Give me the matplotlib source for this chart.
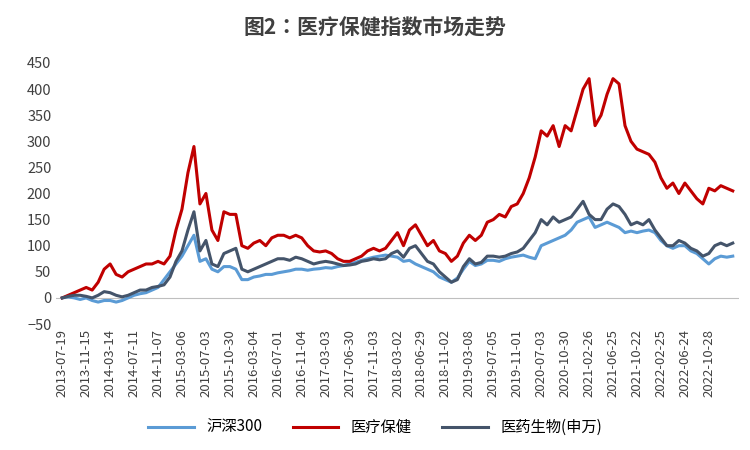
import matplotlib
matplotlib.use("Agg")
import matplotlib.pyplot as plt
from matplotlib import font_manager as fm

cjk = None
for f in fm.findSystemFonts():
    n = f.lower()
    if 'cjk' in n and ('notosans' in n.replace(' ', '') or 'noto' in n):
        try:
            fm.fontManager.addfont(f)
            name = fm.FontProperties(fname=f).get_name()
            if cjk is None or 'SC' in name:
                cjk = name
        except Exception:
            pass
plt.rcParams['font.family'] = [cjk or 'Noto Sans CJK SC', 'Noto Sans CJK JP', 'DejaVu Sans']

tick_labels = ["2013-07-19","2013-11-15","2014-03-14","2014-07-11","2014-11-07","2015-03-06","2015-07-03",
"2015-10-30","2016-03-04","2016-07-01","2016-11-04","2017-03-03","2017-06-30","2017-11-03","2018-03-02",
"2018-06-29","2018-11-02","2019-03-08","2019-07-05","2019-11-01","2020-07-03","2020-10-30","2021-02-26",
"2021-06-25","2021-10-22","2022-02-25","2022-06-24","2022-10-28"]

medical = [0,5,10,15, 20,15,30,55, 65,45,40,50, 55,60,65,65, 70,65,80,130, 170,240,290,180,
200,130,110,165, 160,160,100,95, 105,110,100,115, 120,120,115,120, 115,100,90,88, 90,85,75,70,
70,75,80,90, 95,90,95,110, 125,100,130,140, 120,100,110,90, 85,70,80,105, 120,110,120,145,
150,160,155,175, 180,200,230,270, 320,310,330,290, 330,320,360,400, 420,330,350,390,
420,410,330,300, 285,280,275,260, 230,210,220,200, 220,205,190,180, 210,205,215,210,205]

biomed = [0,3,5,5, 3,0,5,12, 10,5,2,5, 10,15,15,20, 22,25,40,70, 90,130,165,90, 110,65,60,85,
90,95,55,50, 55,60,65,70, 75,75,72,78, 75,70,65,68, 70,68,65,62, 63,65,70,72, 75,73,75,85,
90,78,95,100, 85,70,65,50, 40,30,35,60, 75,65,68,80, 80,78,80,85, 88,95,110,125,
150,140,155,145, 150,155,170,185, 160,150,150,170, 180,175,160,140, 145,140,150,130,
115,100,100,110, 105,95,90,80, 85,100,105,100,105]

hs300 = [0,2,0,-3, 0,-5,-8,-5, -5,-8,-5,0, 5,8,10,15, 20,35,50,65, 80,100,120,70, 75,55,50,60,
60,55,35,35, 40,42,45,45, 48,50,52,55, 55,53,55,56, 58,57,60,62, 65,68,72,75, 78,80,82,80,
78,70,72,65, 60,55,50,40, 35,30,38,55, 70,62,65,72, 72,70,75,78, 80,82,78,75,
100,105,110,115, 120,130,145,150, 155,135,140,145, 140,135,125,128, 125,128,130,125,
110,100,95,100, 100,90,85,75, 65,75,80,78,80]

fig, ax = plt.subplots(figsize=(7.5, 4.5), dpi=100)
fig.subplots_adjust(left=0.075, right=0.985, top=0.86, bottom=0.28)
x = range(len(medical))
ax.plot(x, hs300, color='#5B9BD5', lw=2.2, label='沪深300')
ax.plot(x, medical, color='#C00000', lw=2.2, label='医疗保健')
ax.plot(x, biomed, color='#44546A', lw=2.2, label='医药生物(申万)')
ax.axhline(0, color='#BFBFBF', lw=0.8, zorder=0)
ax.set_ylim(-50, 450)
ax.set_yticks(range(-50, 451, 50))
ax.set_xlim(-1, len(medical))
ax.set_xticks([i*4 for i in range(len(tick_labels))])
ax.set_xticklabels(tick_labels, rotation=90, fontsize=9.5, color='#404040')
ax.tick_params(axis='y', labelsize=10.5, colors='#404040', length=0)
ax.tick_params(axis='x', length=0)
for s in ax.spines.values():
    s.set_visible(False)
fig.suptitle('图2：医疗保健指数市场走势', fontsize=15, fontweight='bold', color='#404040', y=0.96)
fig.legend(loc='lower center', ncol=3, frameon=False, fontsize=11, bbox_to_anchor=(0.5, 0.0),
           handlelength=3, columnspacing=2)
fig.savefig('out.png')
